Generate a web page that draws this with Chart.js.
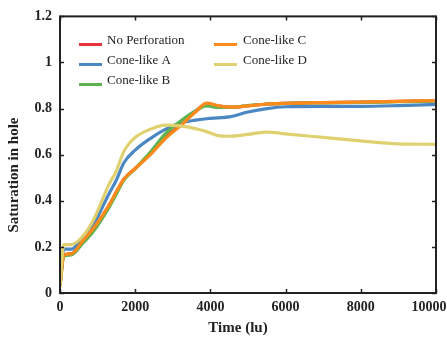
<!DOCTYPE html>
<html>
<head>
<meta charset="utf-8">
<script src="https://cdn.jsdelivr.net/npm/chart.js@4/dist/chart.umd.min.js"></script>
<style>
  html, body { margin: 0; padding: 0; background: #fff; }
  #wrap { width: 447px; height: 341px; position: relative; }
</style>
</head>
<body>
<div id="wrap"><canvas id="c" width="447" height="341"></canvas></div>
<script>
const times = [0, 100, 300, 600, 900, 1300, 1500, 1700, 2000, 2400, 2800, 3200, 3600, 3900, 4200, 4500, 5000, 5500, 6000, 7000, 8000, 9000, 10000];
const noPerforation = [0.03, 0.165, 0.17, 0.222, 0.28, 0.378, 0.438, 0.494, 0.54, 0.602, 0.675, 0.728, 0.786, 0.822, 0.812, 0.806, 0.812, 0.82, 0.823, 0.826, 0.828, 0.831, 0.834];
const coneA = [0.03, 0.19, 0.19, 0.24, 0.30, 0.43, 0.49, 0.565, 0.62, 0.67, 0.71, 0.737, 0.75, 0.756, 0.76, 0.764, 0.785, 0.80, 0.808, 0.81, 0.81, 0.813, 0.818];
const coneB = [0.03, 0.16, 0.165, 0.215, 0.27, 0.37, 0.43, 0.49, 0.54, 0.61, 0.69, 0.745, 0.79, 0.812, 0.805, 0.805, 0.813, 0.82, 0.823, 0.825, 0.827, 0.83, 0.832];
const coneC = [0.03, 0.165, 0.17, 0.225, 0.283, 0.38, 0.44, 0.495, 0.54, 0.60, 0.67, 0.725, 0.785, 0.824, 0.813, 0.806, 0.812, 0.82, 0.823, 0.826, 0.828, 0.831, 0.835];
const coneD = [0.03, 0.21, 0.21, 0.245, 0.32, 0.47, 0.53, 0.615, 0.675, 0.71, 0.728, 0.725, 0.713, 0.70, 0.683, 0.68, 0.688, 0.698, 0.69, 0.675, 0.66, 0.647, 0.645];
const seriesNames = ["No Perforation", "Cone-like A", "Cone-like B", "Cone-like C", "Cone-like D"];
const seriesColors = ["#e8323c", "#4a87c3", "#5db44f", "#ff8a1c", "#e0d170"];
const xTickValues = [0, 2000, 4000, 6000, 8000, 10000];
const yTickValues = [0, 0.2, 0.4, 0.6, 0.8, 1, 1.2];
const xTitle = "Time (lu)";
const yTitle = "Saturation in hole";

const seriesValues = [noPerforation, coneA, coneB, coneC, coneD];
const FONT = "'Liberation Serif', 'Times New Roman', serif";

const datasets = seriesValues.map((vals, i) => ({
  label: seriesNames[i],
  data: times.map((t, j) => ({ x: t, y: vals[j] })),
  borderColor: seriesColors[i],
  backgroundColor: seriesColors[i],
  borderWidth: 3.2,
  pointRadius: 0,
  tension: 0.35,
  cubicInterpolationMode: 'monotone',
  fill: false,
  order: seriesValues.length - 1 - i
}));

const framePlugin = {
  id: 'frame',
  afterDraw(chart) {
    const ctx = chart.ctx;
    const a = chart.chartArea;
    const xs = chart.scales.x, ys = chart.scales.y;
    ctx.save();
    ctx.strokeStyle = '#222';
    ctx.lineWidth = 2;
    ctx.strokeRect(a.left, a.top, a.right - a.left, a.bottom - a.top);
    ctx.lineWidth = 1.5;
    const tl = 4;
    ctx.beginPath();
    xTickValues.forEach(v => {
      const px = Math.round(xs.getPixelForValue(v)) + 0.5;
      ctx.moveTo(px, a.bottom); ctx.lineTo(px, a.bottom - tl);
      ctx.moveTo(px, a.top); ctx.lineTo(px, a.top + tl);
    });
    yTickValues.forEach(v => {
      const py = Math.round(ys.getPixelForValue(v)) + 0.5;
      ctx.moveTo(a.left, py); ctx.lineTo(a.left + tl, py);
      ctx.moveTo(a.right, py); ctx.lineTo(a.right - tl, py);
    });
    ctx.stroke();
    // axis titles
    ctx.fillStyle = '#222';
    ctx.font = "bold 15px " + FONT;
    ctx.textAlign = 'center';
    ctx.textBaseline = 'middle';
    ctx.fillText(xTitle, 238, 328);
    ctx.translate(14, 175);
    ctx.rotate(-Math.PI / 2);
    ctx.fillText(yTitle, 0, 0);
    ctx.restore();
    // legend
    ctx.save();
    ctx.font = "13px " + FONT;
    ctx.textBaseline = 'middle';
    ctx.textAlign = 'left';
    const cols = [{ lx: 79, tx: 107 }, { lx: 214, tx: 243 }];
    chart.data.datasets.forEach((ds, i) => {
      const col = cols[i < 3 ? 0 : 1];
      const row = i < 3 ? i : i - 3;
      const ty = 41 + row * 20;
      ctx.strokeStyle = ds.borderColor;
      ctx.lineWidth = 3;
      ctx.beginPath();
      ctx.moveTo(col.lx, ty + 3.5);
      ctx.lineTo(col.lx + 23, ty + 3.5);
      ctx.stroke();
      ctx.fillStyle = '#222';
      ctx.fillText(ds.label, col.tx, ty);
    });
    ctx.restore();
  }
};

new Chart(document.getElementById('c'), {
  type: 'line',
  data: { datasets },
  plugins: [framePlugin],
  options: {
    responsive: false,
    animation: false,
    layout: { padding: { top: 14, right: 11, left: 0, bottom: 0 } },
    plugins: { legend: { display: false }, tooltip: { enabled: false } },
    scales: {
      x: {
        type: 'linear',
        min: 0, max: 10000,
        afterBuildTicks: s => { s.ticks = xTickValues.map(v => ({ value: v })); },
        afterFit: s => { s.height = 48; s.paddingRight = 0; s.paddingLeft = 0; },
        grid: { display: false, drawTicks: false },
        border: { display: false },
        ticks: { color: '#222', padding: 6, maxRotation: 0, font: { family: FONT, size: 14, weight: 'bold' },
                 callback: v => v === 10000 ? String(v) + '    ' : String(v) }
      },
      y: {
        type: 'linear',
        min: 0, max: 1.2,
        afterBuildTicks: s => { s.ticks = yTickValues.map(v => ({ value: v })); },
        afterFit: s => { s.width = 60; },
        grid: { display: false, drawTicks: false },
        border: { display: false },
        ticks: { color: '#222', padding: 8, font: { family: FONT, size: 14, weight: 'bold' }, callback: v => String(Math.round(v * 10) / 10) }
      }
    }
  }
});
</script>
</body>
</html>
